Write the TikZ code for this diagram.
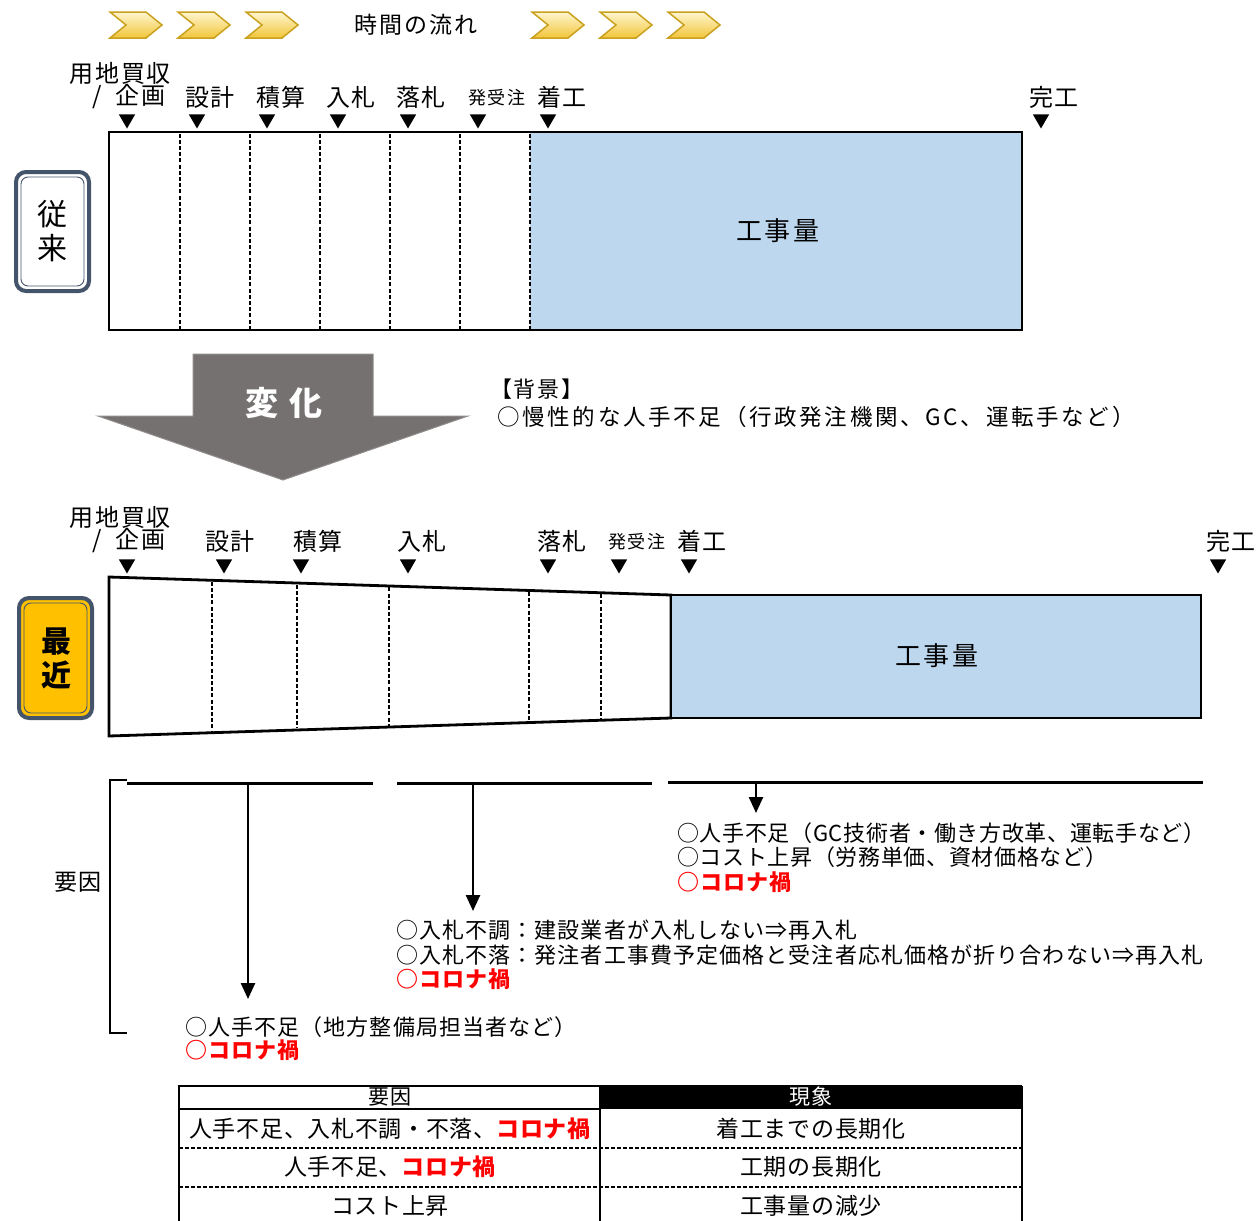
\documentclass[tikz,border=0pt]{standalone}
\usepackage{fontspec}
\setmainfont{Noto Sans CJK JP}
\newfontfamily\jspw[LetterSpace=12]{Noto Sans CJK JP}
\newfontfamily\jsp[LetterSpace=8]{Noto Sans CJK JP}
\newfontfamily\jspm[LetterSpace=5]{Noto Sans CJK JP}
\newfontfamily\jsps[LetterSpace=3]{Noto Sans CJK JP}
\usetikzlibrary{calc,shapes.geometric,arrows.meta}
\definecolor{blu}{HTML}{BDD7EE}
\definecolor{slate}{HTML}{44546A}
\definecolor{gold}{HTML}{FFC000}
\definecolor{chevd}{HTML}{C9A11E}
\definecolor{chevl}{HTML}{FFF6CF}
\definecolor{chevm}{HTML}{F2C53A}
\definecolor{agray}{HTML}{767171}
\definecolor{rd}{HTML}{FF0000}
\begin{document}
\begin{tikzpicture}[x=1pt,y=-1pt,
 fs/.style={font=\jsp\fontsize{#1}{#1}\selectfont},
 fw/.style={font=\jspw\fontsize{#1}{#1}\selectfont},
 fm/.style={font=\jspm\fontsize{#1}{#1}\selectfont},
 fc/.style={font=\jsps\fontsize{#1}{#1}\selectfont},
 lbl/.style={inner sep=0pt, fs=24},
 small/.style={inner sep=0pt, fs=18},
 mk/.style={regular polygon, regular polygon sides=3, shape border rotate=180, fill=black, inner sep=0pt, minimum size=19pt},
 dsh/.style={dash pattern=on 4pt off 2.2pt, line width=1.8pt},
 frame/.style={line width=2.8pt},
 arr/.style={line width=2.5pt, -{Triangle[length=16pt,width=14pt]}},
 chev/.style={draw=chevd, line width=1.5pt, top color=chevl, bottom color=chevm},
 note/.style={inner sep=0pt, anchor=west, fm=22},
 noter/.style={inner sep=0pt, anchor=west, fc=22},
 redb/.style={text=rd, font=\jspm\fontsize{22}{22}\selectfont\bfseries},
 cell/.style={inner sep=0pt, fc=23},
]
\useasboundingbox (0,0) rectangle (1256,1221);

% ---- time flow chevrons
\foreach \x in {110,178,246,532,600,668}{
  \path[chev] (\x,12) -- ++(36,0) -- ++(16,13) -- ++(-16,13) -- ++(-36,0) -- ++(16,-13) -- cycle;
}
\node[inner sep=0pt, fs=23] (flow) at (416,25) {時間の流れ};

% ---- 従来 box
\draw[slate, line width=4pt, rounded corners=10pt] (16,172) rectangle (89,291);
\draw[slate, line width=0.9pt, rounded corners=7pt] (21,177) rectangle (84,286);
\node[inner sep=0pt, font=\fontsize{30}{34}\selectfont, align=center] (jr) at (52,231) {従\\来};

% ---- top labels
\node[lbl, anchor=west] (t0a) at (69,73) {用地買収};
\node[lbl, anchor=west] (t0b) at (92,97) {/\hspace{14pt}企画};
\node[lbl] (t1) at (210,97) {設計};
\node[lbl] (t2) at (281,97) {積算};
\node[lbl] (t3) at (351,97) {入札};
\node[lbl] (t4) at (421,97) {落札};
\node[small] (t5) at (497,98) {発受注};
\node[lbl] (t6) at (562,97) {着工};
\node[lbl] (t7) at (1054,97) {完工};
\foreach \x/\n in {127/a,197/b,267/c,338/d,408/e,478/f,548/g,1041/h}{
  \node[mk] (m\n) at (\x,119) {};
}

% ---- top timeline box
\fill[blu] (530,132) rectangle (1022,330);
\draw[frame] (109,132) rectangle (1022,330);
\foreach \x in {180,250,320,390,460,530}{
  \draw[dsh] (\x,133.5) -- (\x,328.5);
}
\node[inner sep=0pt, fs=26] (kq1) at (778,231) {工事量};

% ---- change arrow
\path[fill=agray, draw=agray!80!white, line width=1pt]
  (193,354) -- (373,354) -- (373,416) -- (468,416) -- (283,480) -- (98,416) -- (193,416) -- cycle;
\node[inner sep=0pt, text=white, font=\fontsize{33}{33}\selectfont\bfseries] (chg) at (284,403) {変\hspace{12pt}化};

% ---- background
\node[inner sep=0pt, anchor=west, fs=22] (bg1) at (490,389) {【背景】};
\node[inner sep=0pt, anchor=west, fw=22.5] (bg2) at (497,417) {○慢性的な人手不足（行政発注機関、GC、運転手など）};

% ---- 最近 box
\draw[slate, line width=4pt, fill=gold, rounded corners=10pt] (19,598) rectangle (92,718);
\draw[slate, line width=0.9pt, rounded corners=7pt] (24,603) rectangle (87,713);
\node[inner sep=0pt, font=\fontsize{30}{34}\selectfont\bfseries, align=center] (rk) at (56,658) {最\\近};

% ---- bottom labels
\node[lbl, anchor=west] (b0a) at (69,517) {用地買収};
\node[lbl, anchor=west] (b0b) at (92,541) {/\hspace{14pt}企画};
\node[lbl] (b1) at (230,541) {設計};
\node[lbl] (b2) at (318,541) {積算};
\node[lbl] (b3) at (422,541) {入札};
\node[lbl] (b4) at (562,541) {落札};
\node[small] (b5) at (637,542) {発受注};
\node[lbl] (b6) at (702,541) {着工};
\node[lbl] (b7) at (1231,541) {完工};
\foreach \x/\n in {127/a,224/b,301/c,408/d,548/e,619/f,689/g,1218/h}{
  \node[mk] (n\n) at (\x,564) {};
}

% ---- bottom timeline
\coordinate (tl) at (109,577);
\coordinate (tr) at (671,595);
\coordinate (bl) at (109,736);
\coordinate (br) at (671,718);
\draw[frame] (tl) -- (tr) -- (br) -- (bl) -- cycle;
\foreach \t in {0.1833,0.3345,0.4982,0.7473,0.8754}{
  \draw[dsh] ($(tl)!\t!(tr)+(0,1.5)$) -- ($(bl)!\t!(br)+(0,-1.5)$);
}
\draw[frame, fill=blu] (671,595) rectangle (1201,718);
\node[inner sep=0pt, fs=26] (kq2) at (937,656) {工事量};

% ---- factors
\draw[line width=2pt] (127,780) -- (110,780) -- (110,1033) -- (127,1033);
\node[inner sep=0pt, fs=23] (yi) at (78,882) {要因};
\coordinate (h1a) at (127,783); \coordinate (h1b) at (373,783);
\coordinate (h2a) at (397,783); \coordinate (h2b) at (652,783);
\coordinate (h3a) at (668,782); \coordinate (h3b) at (1203,782);
\draw[line width=3pt] (h1a) -- (h1b);
\draw[line width=3pt] (h2a) -- (h2b);
\draw[line width=3pt] (h3a) -- (h3b);
\coordinate (a1s) at (248,783); \coordinate (a1e) at (248,999);
\coordinate (a2s) at (473,783); \coordinate (a2e) at (473,911);
\coordinate (a3s) at (756,782); \coordinate (a3e) at (756,813);
\draw[arr] (a1s) -- (a1e);
\draw[arr] (a2s) -- (a2e);
\draw[arr] (a3s) -- (a3e);

\node[noter] (r1) at (677,833) {○人手不足（GC技術者・働き方改革、運転手など）};
\node[noter] (r2) at (677,857) {○コスト上昇（労務単価、資材価格など）};
\node[note, redb] (r3) at (677,882) {○コロナ禍};

\node[note] (m1) at (396,930) {○入札不調：建設業者が入札しない⇒再入札};
\node[note] (m2) at (396,955) {○入札不落：発注者工事費予定価格と受注者応札価格が折り合わない⇒再入札};
\node[note, redb] (m3) at (396,979) {○コロナ禍};

\node[note] (l1) at (185,1027) {○人手不足（地方整備局担当者など）};
\node[note, redb] (l2) at (185,1050) {○コロナ禍};

% ---- table
\fill[black] (600,1086) rectangle (1022,1109);
\draw[line width=2pt] (179,1086) rectangle (600,1109);
\draw[line width=2pt] (600,1086) -- (1022,1086);
\draw[line width=2.5pt] (179,1109) -- (179,1222);
\draw[line width=2.5pt] (600,1109) -- (600,1222);
\draw[line width=2.5pt] (1022,1086) -- (1022,1222);
\draw[dash pattern=on 4pt off 2pt, line width=1.6pt] (179,1148) -- (1022,1148);
\draw[dash pattern=on 4pt off 2pt, line width=1.6pt] (179,1187) -- (1022,1187);
\node[inner sep=0pt, fc=21] (th1) at (390,1097) {要因};
\node[inner sep=0pt, fc=21, text=white] (th2) at (811,1097) {現象};
\node[cell] (c11) at (390,1129) {人手不足、入札不調・不落、\textcolor{rd}{\bfseries コロナ禍}};
\node[cell] (c12) at (811,1129) {着工までの長期化};
\node[cell] (c21) at (390,1167) {人手不足、\textcolor{rd}{\bfseries コロナ禍}};
\node[cell] (c22) at (811,1167) {工期の長期化};
\node[cell] (c31) at (390,1206) {コスト上昇};
\node[cell] (c32) at (811,1206) {工事量の減少};
\end{tikzpicture}
\end{document}
